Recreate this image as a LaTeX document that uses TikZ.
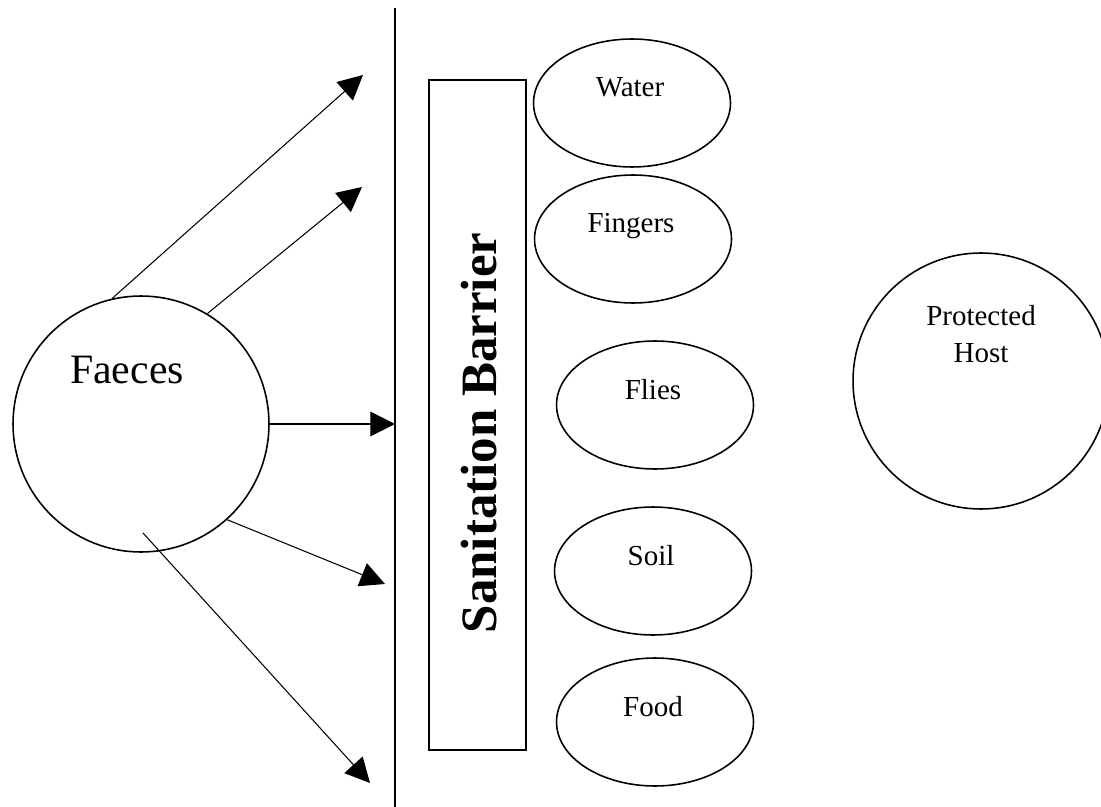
\documentclass[tikz,border=0pt]{standalone}
\usepackage{fontspec}
\setmainfont{Liberation Serif}
\usetikzlibrary{arrows.meta, shapes.geometric, calc}

\begin{document}
\begin{tikzpicture}[x=0.02cm, y=-0.02cm,
    source/.style={draw, circle, minimum size=5.12cm, inner sep=0pt, line width=0.9pt},
    vehicle/.style={draw, ellipse, minimum width=3.94cm, minimum height=2.56cm, inner sep=0pt, line width=0.9pt},
    barrier/.style={draw, rectangle, minimum width=1.94cm, minimum height=13.4cm, inner sep=0pt, line width=0.9pt},
    route/.style={-{Triangle[length=14pt, width=14pt]}, line width=0.6pt},
    lbl/.style={font=\fontsize{16.5}{21}\selectfont, anchor=base, inner sep=0pt},
]
  \useasboundingbox (0,0) rectangle (1101,807);

  % faeces and host
  \node[source] (faeces) at (141,424) {};
  \node[lbl, font=\fontsize{23.8}{28}\selectfont] (faecestext) at ($(faeces.center)+(-14,-41)$) {Faeces};
  \node[source] (host) at (981,381) {};
  \node[lbl, anchor=north, align=center] (hosttext) at ($(host.center)+(0,-76)$) {Protected\\Host};

  % the barrier
  \draw[line width=1.1pt] (395,8) coordinate (walltop) -- (395,807) coordinate (wallbot);
  \node[barrier] (barrier) at (477.5,415) {};
  \node[font=\bfseries\fontsize{29}{34}\selectfont, rotate=90, inner sep=0pt] (barriertext) at (479,433) {Sanitation Barrier};

  % routes of transmission
  \foreach \name/\txt/\x/\y in {water/Water/632/103, fingers/Fingers/633/239, flies/Flies/655/405, soil/Soil/653/571, food/Food/655/722} {
    \node[vehicle] (\name) at (\x,\y) {};
    \node[lbl] (\name text) at ($(\name.center)+(-2,-6)$) {\txt};
  }

  \coordinate (tip1) at (363,75);
  \coordinate (tip2) at (362,187);
  \coordinate (tip3) at (395,424);
  \coordinate (tip4) at (385,584);
  \coordinate (tip5) at (370,783);
  \draw[route] (faeces.103) -- (tip1);
  \draw[route] (faeces.59) -- (tip2);
  \draw[route] (faeces.east) -- (tip3);
  \draw[route] (faeces.-48) -- (tip4);
  \draw[route] ($(faeces.center)+(2,109)$) -- (tip5);
\end{tikzpicture}
\end{document}
